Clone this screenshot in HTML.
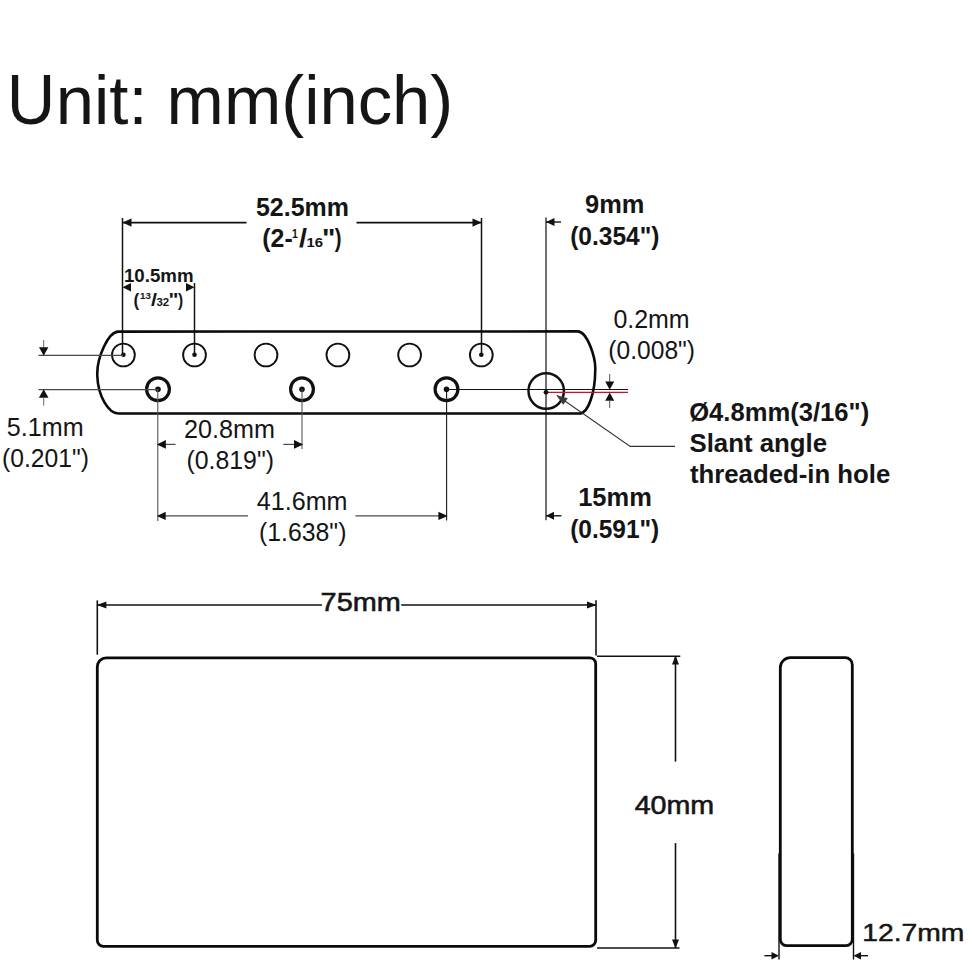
<!DOCTYPE html>
<html><head><meta charset="utf-8"><style>
html,body{margin:0;padding:0;background:#fff;}
svg{display:block;}
text{font-family:"Liberation Sans",sans-serif;}
</style></head><body>
<svg width="972" height="972" viewBox="0 0 972 972">
<rect width="972" height="972" fill="#fff"/>
<text x="6.79" y="123.9" font-size="71" font-weight="normal" fill="#151515" textLength="48.53" lengthAdjust="spacingAndGlyphs" >U</text>
<text x="55.75" y="123.9" font-size="68" font-weight="normal" fill="#151515" textLength="397.49" lengthAdjust="spacingAndGlyphs" >nit: mm(inch)</text>
<line x1="122.5" y1="218" x2="122.5" y2="355" stroke="#111" stroke-width="1.5"/>
<line x1="481.5" y1="218" x2="481.5" y2="355" stroke="#111" stroke-width="1.5"/>
<line x1="122.5" y1="222.6" x2="246.5" y2="222.6" stroke="#111" stroke-width="1.6"/>
<line x1="356.5" y1="222.6" x2="481.5" y2="222.6" stroke="#111" stroke-width="1.6"/>
<polygon points="122.5,222.6 131.5,218.4 131.5,226.8" fill="#111"/>
<polygon points="481.5,222.6 472.5,218.4 472.5,226.8" fill="#111"/>
<text x="255.97" y="215.9" font-size="25.5" font-weight="bold" fill="#151515" textLength="92.93" lengthAdjust="spacingAndGlyphs" >52.5mm</text>
<text x="262.28" y="246.9" font-size="25.5" font-weight="bold" fill="#151515" textLength="30.42" lengthAdjust="spacingAndGlyphs" >(2-</text>
<text x="291.95" y="237.6" font-size="12" font-weight="bold" fill="#151515" textLength="5.83" lengthAdjust="spacingAndGlyphs" >1</text>
<text x="299.12" y="246.8" font-size="25.5" font-weight="bold" fill="#151515" textLength="8.07" lengthAdjust="spacingAndGlyphs" >/</text>
<text x="306.54" y="246.9" font-size="13" font-weight="bold" fill="#151515" textLength="16.59" lengthAdjust="spacingAndGlyphs" >16</text>
<text x="322.06" y="246.9" font-size="25.5" font-weight="bold" fill="#151515" textLength="13.4" lengthAdjust="spacingAndGlyphs" >&quot;</text>
<text x="334.8" y="246.9" font-size="25.5" font-weight="bold" fill="#151515" textLength="6.79" lengthAdjust="spacingAndGlyphs" >)</text>
<line x1="194.5" y1="283" x2="194.5" y2="355" stroke="#111" stroke-width="1.5"/>
<polygon points="122.5,287.3 131.0,283.1 131.0,291.5" fill="#111"/>
<polygon points="194.5,287.3 186.0,283.1 186.0,291.5" fill="#111"/>
<text x="123.92" y="281.8" font-size="18.3" font-weight="bold" fill="#151515" textLength="69.63" lengthAdjust="spacingAndGlyphs" >10.5mm</text>
<text x="133.6" y="305.7" font-size="19" font-weight="bold" fill="#151515" textLength="5.67" lengthAdjust="spacingAndGlyphs" >(</text>
<text x="140.07" y="298.6" font-size="9.2" font-weight="bold" fill="#151515" textLength="10.83" lengthAdjust="spacingAndGlyphs" >13</text>
<text x="150.92" y="305.6" font-size="19" font-weight="bold" fill="#151515" textLength="6.0" lengthAdjust="spacingAndGlyphs" >/</text>
<text x="156.41" y="305.5" font-size="10" font-weight="bold" fill="#151515" textLength="12.71" lengthAdjust="spacingAndGlyphs" >32</text>
<text x="168.42" y="305.7" font-size="19" font-weight="bold" fill="#151515" textLength="9.98" lengthAdjust="spacingAndGlyphs" >&quot;</text>
<text x="178.1" y="305.7" font-size="19" font-weight="bold" fill="#151515" textLength="5.18" lengthAdjust="spacingAndGlyphs" >)</text>
<line x1="546" y1="217.5" x2="546" y2="520.3" stroke="#222" stroke-width="1.3"/>
<line x1="546" y1="222" x2="561" y2="222" stroke="#111" stroke-width="1.4"/>
<polygon points="546.0,222.0 554.5,218.0 554.5,226.0" fill="#111"/>
<text x="585.1" y="213" font-size="25.5" font-weight="bold" fill="#151515" textLength="59.37" lengthAdjust="spacingAndGlyphs" >9mm</text>
<text x="570.2" y="244.8" font-size="25.5" font-weight="bold" fill="#151515" textLength="89.3" lengthAdjust="spacingAndGlyphs" >(0.354&quot;)</text>
<path d="M118.3,331.6 L577.6,331.4 C587.5,331.4 596.1,358.7 595.2,371 C595.2,390.9 588.6,413.5 579.5,413.5 L118.3,413.5 C108.8,413.5 97.9,396.5 97.3,375.8 C96.5,357.3 108.7,331.6 118.3,331.6 Z" fill="none" stroke="#0a0a0a" stroke-width="2.6"/>
<circle cx="123.4" cy="355" r="11.4" stroke="#111" stroke-width="1.9" fill="none"/>
<circle cx="194.5" cy="355" r="11.4" stroke="#111" stroke-width="1.9" fill="none"/>
<circle cx="266" cy="355" r="11.4" stroke="#111" stroke-width="1.9" fill="none"/>
<circle cx="337.9" cy="355" r="11.4" stroke="#111" stroke-width="1.9" fill="none"/>
<circle cx="409.6" cy="355" r="11.4" stroke="#111" stroke-width="1.9" fill="none"/>
<circle cx="481.3" cy="355" r="11.4" stroke="#111" stroke-width="1.9" fill="none"/>
<circle cx="123.4" cy="354.8" r="2.3" fill="#111"/>
<circle cx="194.5" cy="354.8" r="2.3" fill="#111"/>
<circle cx="481.3" cy="354.8" r="2.3" fill="#111"/>
<circle cx="158" cy="389.2" r="11.4" stroke="#111" stroke-width="3.2" fill="none"/>
<circle cx="158" cy="389.2" r="2.8" fill="#111"/>
<circle cx="302" cy="389.2" r="11.4" stroke="#111" stroke-width="3.2" fill="none"/>
<circle cx="302" cy="389.2" r="2.8" fill="#111"/>
<circle cx="446.5" cy="389.2" r="11.4" stroke="#111" stroke-width="3.2" fill="none"/>
<circle cx="446.5" cy="389.2" r="2.8" fill="#111"/>
<circle cx="546.2" cy="391" r="17.7" stroke="#111" stroke-width="2.5" fill="none"/>
<line x1="38.5" y1="355.4" x2="123" y2="355.4" stroke="#4a4a4a" stroke-width="1.2"/>
<line x1="38.5" y1="389.6" x2="158" y2="389.6" stroke="#4a4a4a" stroke-width="1.2"/>
<line x1="43.7" y1="340" x2="43.7" y2="348" stroke="#666" stroke-width="1.0"/>
<polygon points="43.7,355.8 39.0,347.2 48.4,347.2" fill="#111"/>
<polygon points="43.7,389.2 38.9,397.7 48.5,397.7" fill="#111"/>
<line x1="43.7" y1="397" x2="43.7" y2="405.6" stroke="#666" stroke-width="1.0"/>
<text x="6.81" y="436" font-size="25.3" font-weight="normal" fill="#151515" textLength="76.76" lengthAdjust="spacingAndGlyphs" >5.1mm</text>
<text x="1.96" y="467.3" font-size="25.8" font-weight="normal" fill="#151515" textLength="86.95" lengthAdjust="spacingAndGlyphs" >(0.201&quot;)</text>
<line x1="157.8" y1="389.2" x2="157.8" y2="521" stroke="#555" stroke-width="1.1"/>
<line x1="302" y1="389.2" x2="302" y2="449" stroke="#555" stroke-width="1.1"/>
<line x1="446.6" y1="389.2" x2="446.6" y2="520.5" stroke="#1a1a1a" stroke-width="1.1"/>
<line x1="157.8" y1="444.4" x2="175.5" y2="444.4" stroke="#4a4a4a" stroke-width="1.2"/>
<line x1="283.3" y1="444.4" x2="302" y2="444.4" stroke="#4a4a4a" stroke-width="1.2"/>
<polygon points="156.9,444.4 165.9,440.1 165.9,448.7" fill="#111"/>
<polygon points="303.2,444.4 294.0,440.0 294.0,448.8" fill="#111"/>
<text x="184.14" y="437.9" font-size="25" font-weight="normal" fill="#151515" textLength="90.92" lengthAdjust="spacingAndGlyphs" >20.8mm</text>
<text x="186.45" y="469.1" font-size="25.8" font-weight="normal" fill="#151515" textLength="87.57" lengthAdjust="spacingAndGlyphs" >(0.819&quot;)</text>
<line x1="157.8" y1="515.9" x2="248" y2="515.9" stroke="#4a4a4a" stroke-width="1.2"/>
<line x1="355.4" y1="515.9" x2="446.5" y2="515.9" stroke="#4a4a4a" stroke-width="1.2"/>
<polygon points="156.9,515.9 165.7,511.8 165.7,520.0" fill="#111"/>
<polygon points="447.7,515.9 438.4,511.7 438.4,520.1" fill="#111"/>
<text x="256.81" y="509.6" font-size="25.5" font-weight="normal" fill="#151515" textLength="90.69" lengthAdjust="spacingAndGlyphs" >41.6mm</text>
<text x="258.95" y="541.1" font-size="25.8" font-weight="normal" fill="#151515" textLength="87.47" lengthAdjust="spacingAndGlyphs" >(1.638&quot;)</text>
<line x1="546" y1="515.8" x2="561.4" y2="515.8" stroke="#111" stroke-width="1.4"/>
<polygon points="546.0,515.8 554.0,511.8 554.0,519.8" fill="#111"/>
<text x="578.17" y="506.4" font-size="25" font-weight="bold" fill="#151515" textLength="73.67" lengthAdjust="spacingAndGlyphs" >15mm</text>
<text x="570.22" y="537.6" font-size="26" font-weight="bold" fill="#151515" textLength="89.05" lengthAdjust="spacingAndGlyphs" >(0.591&quot;)</text>
<line x1="446.5" y1="389.4" x2="628" y2="389.4" stroke="#111" stroke-width="1.05"/>
<line x1="546" y1="392.4" x2="628" y2="392.4" stroke="#c4161c" stroke-width="1.25"/>
<circle cx="546" cy="392.3" r="2.4" fill="#111"/>
<line x1="609.7" y1="374" x2="609.7" y2="382" stroke="#555" stroke-width="1.0"/>
<polygon points="609.7,389.7 605.2,381.5 614.2,381.5" fill="#111"/>
<polygon points="609.7,392.5 605.2,400.7 614.2,400.7" fill="#111"/>
<line x1="609.7" y1="400" x2="609.7" y2="408" stroke="#555" stroke-width="1.0"/>
<text x="613.42" y="327.8" font-size="25.5" font-weight="normal" fill="#151515" textLength="76.23" lengthAdjust="spacingAndGlyphs" >0.2mm</text>
<text x="608.37" y="359.2" font-size="25.8" font-weight="normal" fill="#151515" textLength="86.64" lengthAdjust="spacingAndGlyphs" >(0.008&quot;)</text>
<polyline points="557,395.5 630.2,446.4 675,446.4" fill="none" stroke="#333" stroke-width="1.1"/>
<polygon points="556.5,395.2 563.2,404.8 567.8,398.2" fill="#3a3a3a"/>
<text x="689.2" y="420.6" font-size="25.5" font-weight="bold" fill="#151515" textLength="180.05" lengthAdjust="spacingAndGlyphs" >Ø4.8mm(3/16&quot;)</text>
<text x="689.44" y="451.6" font-size="25.5" font-weight="bold" fill="#151515" textLength="137.61" lengthAdjust="spacingAndGlyphs" >Slant angle</text>
<text x="689.95" y="482.8" font-size="25.5" font-weight="bold" fill="#151515" textLength="200.33" lengthAdjust="spacingAndGlyphs" >threaded-in hole</text>
<line x1="97.3" y1="600.4" x2="97.3" y2="654.7" stroke="#111" stroke-width="1.6"/>
<line x1="596" y1="600.2" x2="596" y2="655.6" stroke="#111" stroke-width="1.6"/>
<line x1="97.3" y1="605" x2="322" y2="605" stroke="#111" stroke-width="1.6"/>
<line x1="401.2" y1="605" x2="596" y2="605" stroke="#111" stroke-width="1.6"/>
<polygon points="96.9,605.0 106.4,601.5 106.4,608.5" fill="#111"/>
<polygon points="596.8,605.0 587.0,601.5 587.0,608.5" fill="#111"/>
<text x="320.61" y="611.2" font-size="26" font-weight="normal" fill="#151515" textLength="80.12" lengthAdjust="spacingAndGlyphs" stroke="#151515" stroke-width="0.6">75mm</text>
<path d="M106.3,657.8 L589.7,657.8 A6,6 0 0 1 595.7,663.8 L595.7,940.3 A6,6 0 0 1 589.7,946.3 L103.3,946.3 A6,6 0 0 1 97.3,940.3 L97.3,666.8 A9,9 0 0 1 106.3,657.8 Z" fill="none" stroke="#0a0a0a" stroke-width="2.8"/>
<line x1="597" y1="656.3" x2="680.3" y2="656.3" stroke="#111" stroke-width="1.6"/>
<line x1="597" y1="948" x2="679.5" y2="948" stroke="#111" stroke-width="1.6"/>
<line x1="675.5" y1="656" x2="675.5" y2="761.6" stroke="#111" stroke-width="1.6"/>
<line x1="675.5" y1="843.1" x2="675.5" y2="948" stroke="#111" stroke-width="1.6"/>
<polygon points="675.5,655.4 672.0,664.6 679.0,664.6" fill="#111"/>
<polygon points="675.5,948.6 672.0,939.6 679.0,939.6" fill="#111"/>
<text x="634.65" y="813.7" font-size="26.3" font-weight="normal" fill="#151515" textLength="79.58" lengthAdjust="spacingAndGlyphs" stroke="#151515" stroke-width="0.6">40mm</text>
<path d="M790.3,657.7 L845.3,657.7 A7,7 0 0 1 852.3,664.7 L852.3,939.6 A6,6 0 0 1 846.3,945.6 L786.3,945.6 A6,6 0 0 1 780.3,939.6 L780.3,667.7 A10,10 0 0 1 790.3,657.7 Z" fill="none" stroke="#0a0a0a" stroke-width="2.8"/>
<line x1="779" y1="853.5" x2="779" y2="959.6" stroke="#111" stroke-width="1.4"/>
<line x1="853.5" y1="853.5" x2="853.5" y2="959.6" stroke="#111" stroke-width="1.4"/>
<line x1="764.4" y1="955.7" x2="772" y2="955.7" stroke="#111" stroke-width="1.4"/>
<line x1="861" y1="955.7" x2="868" y2="955.7" stroke="#111" stroke-width="1.4"/>
<polygon points="779.0,955.7 771.5,952.0 771.5,959.4" fill="#111"/>
<polygon points="853.5,955.7 861.0,952.0 861.0,959.4" fill="#111"/>
<text x="862.28" y="940.6" font-size="24.5" font-weight="normal" fill="#151515" textLength="102.14" lengthAdjust="spacingAndGlyphs" stroke="#151515" stroke-width="0.5">12.7mm</text>
</svg>
</body></html>
